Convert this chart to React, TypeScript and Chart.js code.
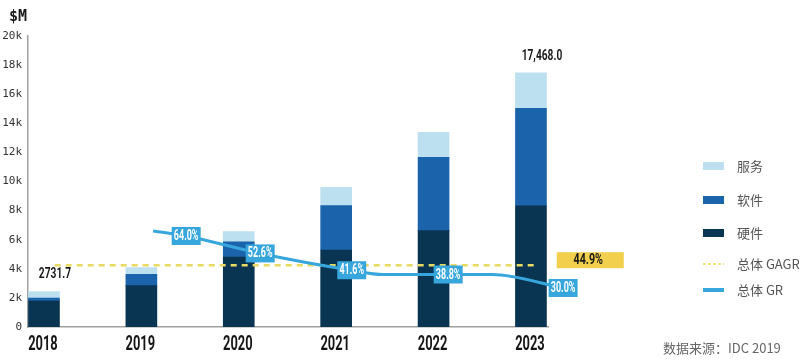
import React, { useEffect, useRef } from 'react';
import { Chart, registerables } from 'chart.js';

Chart.register(...registerables);

const years = ['2018', '2019', '2020', '2021', '2022', '2023'];
const hardware = [1790, 2840, 4810, 5290, 6620, 8320];
const software = [200, 780, 1050, 3050, 5040, 6710];
const services = [440, 460, 690, 1260, 1720, 2440];
const totalLabels = ['2731.7', '', '', '', '', '17,468.0'];
const yTicks = [0, 2000, 4000, 6000, 8000, 10000, 12000, 14000, 16000, 18000, 20000];

const grX = [1.12, 1.46, 2.22, 3.16, 3.48, 4.15, 4.6, 5.33];
const grValues = [67.3, 64.0, 52.6, 41.6, 38.8, 38.8, 38.8, 30.0];
const grLabels = ['', '64.0%', '52.6%', '41.6%', '', '38.8%', '', '30.0%'];

const gagrX = [0.11, 5.07];
const gagrValues = [44.9, 44.9];
const gagrLabel = '44.9%';

const legendLabels = ['服务', '软件', '硬件', '总体 GAGR', '总体 GR'];
const unitLabel = '$M';
const sourceText = '数据来源：IDC 2019';

const C_HW = '#0a3552';
const C_SW = '#1b64ab';
const C_SV = '#bde0f0';
const C_GR = '#36a6dc';
const C_GAGR = '#e8da62';
const C_GAGR_BOX = '#f2cf4c';

const NARROW = 'Roboto, "Liberation Sans", sans-serif';
const MONO = '"DejaVu Sans Mono", monospace';
const CJK = '"Noto Sans CJK SC", "Noto Sans", sans-serif';

function narrowText(ctx: any, text: string, x: number, y: number, size: number, sx: number, color: string) {
  ctx.save();
  ctx.translate(x, y);
  ctx.scale(sx, 1);
  ctx.font = `bold ${size}px ${NARROW}`;
  ctx.fillStyle = color;
  ctx.textAlign = 'center';
  ctx.textBaseline = 'middle';
  ctx.fillText(text, 0, 0);
  ctx.restore();
}

const annotations = {
  id: 'annotations',
  afterDatasetsDraw(chart: any) {
    const ctx = chart.ctx;
    ctx.save();
    // GR labels
    const grMeta = chart.getDatasetMeta(0);
    grMeta.data.forEach((pt: any, i: number) => {
      const t = grLabels[i];
      if (!t) return;
      const w = 29, h = 18;
      ctx.fillStyle = C_GR;
      ctx.fillRect(pt.x - w / 2, pt.y - h / 2, w, h);
      narrowText(ctx, t, pt.x, pt.y + 0.5, 14, 0.64, '#ffffff');
    });
    // GAGR label box
    const gMeta = chart.getDatasetMeta(1);
    const last = gMeta.data[gMeta.data.length - 1];
    if (last) {
      const bx = last.x + 19, by = last.y - 13, bw = 67, bh = 16;
      ctx.fillStyle = C_GAGR_BOX;
      ctx.fillRect(bx, by, bw, bh);
      narrowText(ctx, gagrLabel, bx + bw / 2 - 2, by + bh / 2 + 0.5, 14.5, 0.74, '#1a1a1a');
    }
    // totals above bars
    const topMeta = chart.getDatasetMeta(4);
    topMeta.data.forEach((bar: any, i: number) => {
      const t = totalLabels[i];
      if (!t) return;
      narrowText(ctx, t, bar.x + 11, bar.y - 17, 15, 0.68, '#1a1a1a');
    });
    ctx.restore();
  },
  afterDraw(chart: any) {
    const ctx = chart.ctx;
    ctx.save();
    // x category labels placed via the x scale
    const xs = chart.scales.x;
    const yBase = chart.chartArea.bottom;
    years.forEach((yr, i) => {
      narrowText(ctx, yr, xs.getPixelForValue(i) - 1, yBase + 18, 19.5, 0.66, '#151515');
    });
    // unit label
    ctx.fillStyle = '#1a1a1a';
    ctx.font = `bold 15px ${MONO}`;
    ctx.textAlign = 'center';
    ctx.textBaseline = 'middle';
    ctx.fillText(unitLabel, 18, 17);
    // legend
    const rows = [166, 200, 233, 264, 290];
    const lx = 703, lw = 21, tx = 737;
    rows.forEach((y, i) => {
      if (i <= 2) {
        ctx.fillStyle = [C_SV, C_SW, C_HW][i];
        ctx.fillRect(lx, y - 4, lw, 8);
      } else if (i === 3) {
        ctx.strokeStyle = C_GAGR;
        ctx.lineWidth = 1.5;
        ctx.setLineDash([3, 2]);
        ctx.beginPath();
        ctx.moveTo(lx, y);
        ctx.lineTo(lx + lw, y);
        ctx.stroke();
        ctx.setLineDash([]);
      } else {
        ctx.strokeStyle = C_GR;
        ctx.lineWidth = 4;
        ctx.beginPath();
        ctx.moveTo(lx, y);
        ctx.lineTo(lx + lw, y);
        ctx.stroke();
      }
      ctx.fillStyle = '#555555';
      ctx.font = `13px ${CJK}`;
      ctx.textAlign = 'left';
      ctx.textBaseline = 'middle';
      ctx.fillText(legendLabels[i], tx, y);
    });
    // source
    ctx.fillStyle = '#666666';
    ctx.font = `13px ${CJK}`;
    ctx.textAlign = 'left';
    ctx.textBaseline = 'middle';
    ctx.fillText(sourceText, 663, 348);
    ctx.restore();
  },
};

export default function App() {
  const ref = useRef<HTMLCanvasElement | null>(null);
  useEffect(() => {
    if (!ref.current) return;
    const bar = (label: string, vals: number[], color: string) => ({
      type: 'bar' as const,
      label,
      data: vals.map((v, i) => ({ x: i, y: v })),
      backgroundColor: color,
      borderWidth: 0,
      barThickness: 31,
      xAxisID: 'x',
      yAxisID: 'y',
      order: 1,
    });
    const chart = new Chart(ref.current, {
      type: 'bar',
      data: {
        datasets: [
          {
            type: 'line',
            label: '总体 GR',
            data: grX.map((x, i) => ({ x, y: grValues[i] })),
            borderColor: C_GR,
            borderWidth: 3,
            pointRadius: 0,
            cubicInterpolationMode: 'monotone',
            clip: false,
            xAxisID: 'x',
            yAxisID: 'y2',
            order: 0,
          } as any,
          {
            type: 'line',
            label: '总体 GAGR',
            data: gagrX.map((x, i) => ({ x, y: gagrValues[i] })),
            borderColor: C_GAGR,
            borderWidth: 2.5,
            borderDash: [6, 5],
            pointRadius: 0,
            clip: false,
            xAxisID: 'x',
            yAxisID: 'y2',
            order: 0,
          } as any,
          bar('硬件', hardware, C_HW),
          bar('软件', software, C_SW),
          bar('服务', services, C_SV),
        ],
      },
      options: {
        responsive: false,
        animation: false,
        layout: { padding: { top: 36, right: 252, bottom: 0, left: 0 } },
        plugins: { legend: { display: false }, tooltip: { enabled: false } },
        scales: {
          x: {
            type: 'linear',
            stacked: true,
            offset: false,
            min: -0.164,
            max: 5.175,
            afterBuildTicks: (axis: any) => {
              axis.ticks = years.map((_, i) => ({ value: i }));
            },
            afterFit: (axis: any) => {
              axis.height = 37;
            },
            ticks: { display: false },
            grid: { display: false, drawTicks: false },
            border: { display: true, color: '#a0a0a0', width: 1.5 },
          },
          y: {
            stacked: true,
            min: 0,
            max: 20000,
            afterBuildTicks: (axis: any) => {
              axis.ticks = yTicks.map((v) => ({ value: v }));
            },
            afterFit: (axis: any) => {
              axis.width = 28;
            },
            ticks: {
              padding: 6,
              color: '#333333',
              font: { family: MONO, size: 11 },
              callback: (v: any) => (Number(v) === 0 ? '0' : `${Number(v) / 1000}k`),
            },
            grid: { display: false, drawTicks: false },
            border: { display: true, color: '#a0a0a0', width: 1.5 },
          },
          y2: {
            display: false,
            min: 4.5,
            max: 194.7,
          },
        },
      } as any,
      plugins: [annotations],
    });
    return () => chart.destroy();
  }, []);
  return (
    <div style={{ position: 'fixed', left: 0, top: 0, width: 800, height: 364, background: '#fff' }}>
      <canvas ref={ref} width={800} height={364} style={{ display: 'block' }} />
    </div>
  );
}
